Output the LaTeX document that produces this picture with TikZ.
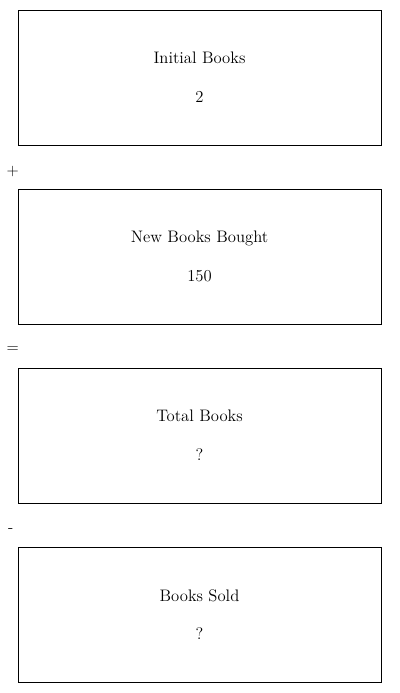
\documentclass[tikz,border=0pt]{standalone}
\usetikzlibrary{positioning, calc}

\begin{document}
\begin{tikzpicture}[
      x=0.75pt, y=-0.75pt,
      node distance=32.6pt,
      qty/.style={rectangle, draw, minimum width=272.25pt, minimum height=101.25pt, align=center, inner sep=0pt, font=\fontsize{12.5pt}{29pt}\selectfont},
      op/.style={font=\fontsize{12pt}{14pt}\selectfont, inner sep=0pt}
    ]
    \useasboundingbox (0,0) rectangle (400,693);

    \node[qty] (init) at (199.5,77.5) {Initial Books\\2};
    \node[qty, below=of init] (new) {New Books Bought\\150};
    \node[qty, below=of new] (total) {Total Books\\?};
    \node[qty, below=of total] (sold) {Books Sold\\?};

    % operators between the boxes
    \node[op] (plus) at ($(init.south west)!0.5!(new.north west) + (-5,5)$) {+};
    \node[op] (eq) at ($(new.south west)!0.5!(total.north west) + (-5,4)$) {=};
    \node[op] (minus) at ($(total.south west)!0.5!(sold.north west) + (-7,5.5)$) {-};
  \end{tikzpicture}
\end{document}
